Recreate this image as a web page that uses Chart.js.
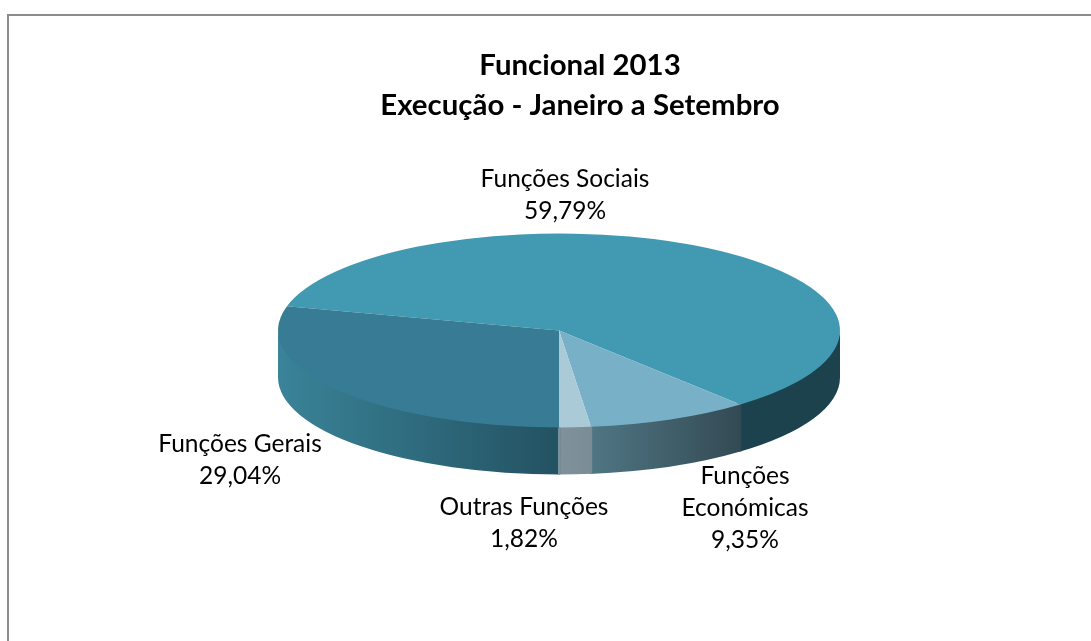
<!DOCTYPE html>
<html><head><meta charset="utf-8">
<style>html,body{margin:0;padding:0;background:#fff}canvas{display:block}</style>
<script src="https://cdn.jsdelivr.net/npm/chart.js@4"></script></head>
<body><canvas id="c" width="1091" height="641"></canvas>
<script>
const categories = ['Funções Sociais','Funções Económicas','Outras Funções','Funções Gerais'];
const shares = [59.79, 9.35, 1.82, 29.04];
const shareLabels = ['59,79%','9,35%','1,82%','29,04%'];
const titleLines = ['Funcional 2013','Execução - Janeiro a Setembro'];
const topColors = ['#4299b2','#78b1c7','#a9cad6','#377c94'];

const SQUASH = 97/281, DEPTH = 47, RX = 281;
// wall gradients: [from colour, to colour], spanning each slice's visible x-range
const wallColors = [['#1c424d','#1c424d'],['#4f7683','#334a54'],['#7f929c','#7b8c95'],['#3a8398','#235262']];
// label layout: centre x, first-line y, and wrapped lines
const labelLayout = [
  {x:565,y:179,lines:['Funções Sociais']},
  {x:745,y:476,lines:['Funções','Económicas']},
  {x:524,y:507,lines:['Outras Funções']},
  {x:240,y:444,lines:['Funções Gerais']}
];
const LABEL_LH = 32;
const TITLE_SHIFT = 21;
const TAU = Math.PI*2;

const pie3d = {
  id:'pie3d',
  afterLayout(chart){
    chart.titleBlock.left += TITLE_SHIFT;
    chart.titleBlock.right += TITLE_SHIFT;
  },
  beforeDraw(chart){
    const c = chart.ctx;
    c.save();
    c.fillStyle='#fff'; c.fillRect(0,0,chart.width,chart.height);
    c.strokeStyle='#8c8c8c'; c.lineWidth=2;
    c.beginPath(); c.moveTo(8,chart.height); c.lineTo(8,15); c.lineTo(chart.width,15); c.stroke();
    c.restore();
  },
  beforeDatasetsDraw(chart){
    const c = chart.ctx, arcs = chart.getDatasetMeta(0).data;
    const cx = arcs[0].x, cy = arcs[0].y;
    const ry = RX*SQUASH;
    arcs.forEach((a,i)=>{
      let s = a.startAngle, e = a.endAngle;
      // front half only: angles in [0,PI], also tested one turn later
      [0,TAU,-TAU].forEach(k=>{
        const from = Math.max(s-k,0), to = Math.min(e-k,Math.PI);
        if(to<=from) return;
        const x0 = cx+RX*Math.cos(to), x1 = cx+RX*Math.cos(from);
        const g = c.createLinearGradient(x0,0,x1,0);
        g.addColorStop(0,wallColors[i][0]); g.addColorStop(1,wallColors[i][1]);
        const lo = Math.max(from-0.004,0), hi = Math.min(to+0.004,Math.PI);
        c.beginPath();
        c.ellipse(cx,cy+DEPTH,RX,ry,0,lo,hi);
        c.ellipse(cx,cy-2,RX,ry,0,hi,lo,true);
        c.closePath();
        c.fillStyle=g; c.fill();
      });
    });
    c.strokeStyle='rgba(255,255,255,.75)'; c.lineWidth=1;
    c.beginPath(); c.moveTo(cx,cy+ry); c.lineTo(cx,cy+ry+DEPTH); c.stroke();
    c.save();
    c.translate(0,cy); c.scale(1,SQUASH); c.translate(0,-cy);
  },
  afterDatasetsDraw(chart){
    const c = chart.ctx;
    c.restore();
    c.save();
    c.fillStyle='#000'; c.font='24.5px Lato'; c.textAlign='center'; c.textBaseline='middle';
    labelLayout.forEach((l,i)=>{
      const lines = l.lines.concat(shareLabels[i]);
      lines.forEach((t,j)=>c.fillText(t,l.x,l.y+j*LABEL_LH));
    });
    c.restore();
  }
};

new Chart(document.getElementById('c'),{
  type:'pie',
  data:{labels:categories,datasets:[{data:shares,backgroundColor:topColors,borderWidth:0,radius:RX}]},
  options:{
    responsive:false,animation:false,
    rotation:180+shares[3]*3.6,
    layout:{padding:{left:27,bottom:106}},
    plugins:{
      legend:{display:false},tooltip:{enabled:false},
      title:{display:true,text:titleLines,color:'#000',align:'center',
        font:{family:'Lato',size:29.4,weight:'bold',lineHeight:1.36},padding:{top:46,bottom:0}}
    }
  },
  plugins:[pie3d]
});
</script></body></html>
